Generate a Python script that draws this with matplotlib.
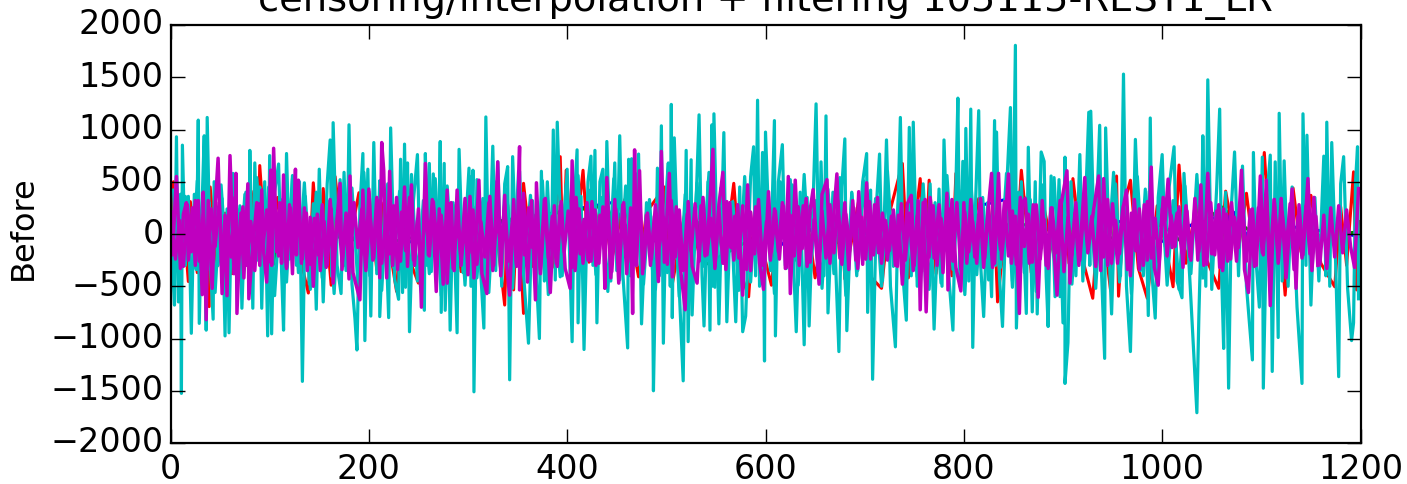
import matplotlib
matplotlib.use('Agg')
import matplotlib.pyplot as plt
import numpy as np

# (frame, value) pairs, one list per traced line
blue_pts = [(0, 60), (40, -90), (120, 110), (220, -120), (320, 90), (445, 300), (470, -100),
            (598, 150), (615, -110), (640, 90), (660, -100), (734, 90), (860, 370), (875, -70),
            (900, 80), (960, 120), (1000, -70), (1030, 90), (1064, 190), (1066, -60), (1068, 200),
            (1070, -40), (1072, 210), (1090, -90), (1130, 70), (1198, -20)]
green_pts = [(0, 40), (104, -290), (108, 80), (210, -100), (320, 110), (440, 270), (455, -90),
             (532, 110), (540, -290), (610, 80), (640, 310), (660, -100), (780, 80), (860, 90),
             (940, -60), (1000, 90), (1020, -80), (1060, 260), (1100, -70), (1198, 20)]
red_pts = [(0, -150), (3, 500), (7, -100), (12, 280), (18, -455), (20, 310), (27, -370), (33, 150), (39, -695),
           (40, 450), (47, -310), (55, 200), (62, -380), (70, 240), (78, -150), (84, 410), (88, -200), (90, 655),
           (97, -300), (108, 350), (115, -250), (124, 525), (132, -280), (139, -565), (144, 490), (150, -240),
           (154, 435), (162, -490), (166, 550), (176, -300), (190, 395), (195, -200), (200, 410), (208, -345),
           (215, 300), (222, -200), (228, -550), (234, 370), (240, -220), (250, -470), (258, 250), (268, 290),
           (275, -280), (285, 280), (293, -360), (305, 260), (315, -420), (325, 340), (337, -680), (340, 280),
           (346, -535), (350, 300), (356, -760), (356, 485), (365, -310), (378, 240), (385, -320), (393, 740),
           (396, -300), (399, 610), (406, -290), (416, 610), (422, -270), (435, 320), (445, -240), (458, 330),
           (472, -410), (480, 210), (490, 340), (498, 450), (506, -480), (520, 270), (535, -250), (548, 310),
           (558, -280), (568, 485), (575, -370), (583, -600), (590, 360), (600, -260), (606, -490), (615, 340),
           (630, -250), (640, 300), (650, -420), (662, 280), (670, -310), (675, 485), (680, -430), (694, 320),
           (705, -400), (717, -520), (725, 200), (738, 675), (744, -420), (756, 530), (761, -360), (765, 515),
           (772, -380), (782, 370), (788, -400), (792, 580), (800, -320), (815, 340), (825, -200), (830, 380),
           (834, -650), (845, 350), (852, -300), (858, 610), (868, -370), (880, 290), (895, -400), (902, 450),
           (906, -280), (910, 530), (920, -250), (930, -615), (937, 310), (948, -540), (954, 555), (956, -595),
           (962, 300), (968, 515), (976, -330), (985, -615), (995, 270), (1005, -190), (1011, -505), (1017, 660),
           (1024, -280), (1035, 300), (1045, -250), (1057, -520), (1064, 410), (1076, -220), (1085, 390), (1094, -300),
           (1103, 780), (1110, -280), (1116, 400), (1124, -585), (1132, 440), (1140, -170), (1150, 370), (1160, -280),
           (1174, -505), (1180, 260), (1186, -300), (1193, 595), (1196, -535), (1198, 120)]
cyan_pts = [(0, 420), (2, -300), (4, -680), (6, 930), (8, -650), (10, 380), (11, -1525), (12, 850), (15, -300),
            (18, 360), (21, -950), (24, 380), (26, -340), (28, 1090), (29, -855), (32, 330), (34, 940), (36, -920),
            (37, 1115), (40, -250), (43, -815), (44, 500), (48, -300), (52, 340), (55, -975), (57, 240), (59, -945),
            (62, 420), (66, -320), (70, 270), (72, -710), (76, 400), (79, -300), (80, 800), (83, -710), (85, 680),
            (88, -250), (90, 450), (92, -710), (95, 500), (98, -975), (100, 750), (102, -955), (105, 400), (109, 670),
            (112, -350), (114, -920), (117, 770), (120, -240), (123, 530), (127, -300), (130, 500), (133, -1410),
            (136, 360), (140, -480), (144, 290), (147, -720), (150, 620), (154, -650), (158, 480), (161, 900),
            (163, -410), (164, 1065), (168, -300), (172, -570), (175, 590), (178, -250), (180, 1045), (183, -480),
            (186, -810), (188, -1110), (191, 250), (194, 770), (196, -1020), (199, 620), (202, -785), (205, 875),
            (208, -380), (211, 510), (211, -790), (216, 300), (220, -800), (222, 1015), (226, -430), (230, -625),
            (232, 715), (234, -560), (236, 860), (238, -300), (239, 680), (241, -935), (245, 320), (249, 760),
            (252, -500), (256, -730), (257, 770), (259, -300), (261, 675), (263, -360), (265, 575), (270, -300),
            (272, 885), (273, -750), (276, 675), (277, -730), (280, 250), (282, -920), (285, 300), (289, -945),
            (291, 810), (295, -370), (301, 630), (303, -500), (305, 610), (306, -1510), (309, 520), (313, -390),
            (316, -900), (318, 1120), (321, -410), (325, 840), (328, -350), (330, 690), (334, -500), (337, 480),
            (340, 645), (342, -1395), (345, 740), (349, -300), (352, 600), (356, -380), (361, -1045), (365, 320),
            (369, -420), (372, -1000), (374, 600), (377, -450), (380, 500), (384, -300), (386, 995), (388, -440),
            (390, 1070), (395, -400), (400, 620), (405, -1030), (407, 280), (410, 805), (411, -850), (414, 360),
            (417, -1105), (421, 500), (424, 745), (426, -300), (428, 800), (430, -850), (433, 500), (436, 620),
            (438, -500), (440, 885), (444, -450), (448, 680), (450, -350), (453, 940), (456, -360), (461, -1090),
            (462, 715), (464, -400), (465, 720), (470, -300), (472, 765), (475, -860), (480, 300), (486, -350),
            (487, -1500), (491, 630), (493, -400), (495, 1035), (497, -1045), (500, 400), (502, 680), (504, -500),
            (505, 1240), (506, -800), (508, 920), (512, -300), (517, -1405), (520, 800), (522, -1030), (525, 710),
            (526, -775), (530, 300), (533, 1140), (536, -400), (538, -880), (542, 500), (544, -920), (546, 1045),
            (547, -500), (548, 1150), (553, -860), (558, 970), (561, -840), (565, 300), (570, -840), (574, 450),
            (577, -935), (580, -785), (585, 550), (588, 835), (590, -400), (592, 1280), (594, -500), (597, 780),
            (599, -1215), (600, 975), (605, -350), (609, 1085), (610, -975), (613, 500), (617, 855), (620, -300),
            (625, 520), (631, -935), (635, 400), (639, -1060), (642, 350), (644, -880), (648, 300), (651, 1245),
            (654, -400), (656, 690), (659, -400), (661, 1130), (663, -755), (668, 400), (674, -1125), (677, 450),
            (680, 910), (682, -925), (687, 400), (692, -400), (698, 500), (702, 770), (703, -750), (706, 420),
            (708, -1390), (712, 300), (715, 765), (718, -450), (722, 900), (726, -500), (731, -1080), (734, 400),
            (736, 1115), (739, -450), (742, -825), (745, 1020), (747, -400), (749, 1070), (753, -500), (758, 350),
            (762, -600), (766, 480), (770, -910), (775, 430), (778, -500), (780, 900), (784, -300), (789, -920),
            (792, 450), (794, 1300), (796, -500), (799, 695), (801, -400), (802, 1010), (805, -450), (807, 1195),
            (809, -1085), (812, 350), (815, 1180), (817, -300), (820, -790), (824, 300), (828, -600), (831, 1085),
            (832, -300), (833, 975), (836, -420), (839, -885), (843, 400), (847, 1210), (849, -450), (852, 1805),
            (853, -900), (858, 500), (863, -760), (865, 830), (869, -745), (872, 500), (874, -765), (878, 785),
            (881, 695), (883, -400), (885, -885), (888, 555), (892, -600), (896, 520), (900, -850), (902, 735),
            (902, -1430), (905, -1040), (908, 500), (913, -400), (917, 760), (920, -450), (926, 1165), (927, -300),
            (928, 1175), (932, -300), (937, 1040), (939, -400), (942, -1190), (943, 1015), (947, -300), (949, -765),
            (953, 480), (958, -400), (961, 1530), (964, -500), (968, -1125), (973, 905), (978, -350), (983, 430),
            (986, -780), (988, 1110), (990, -420), (993, -805), (996, 350), (1000, 760), (1003, -120), (1007, 450),
            (1012, 835), (1015, -450), (1020, -610), (1022, 580), (1028, -450), (1035, -1710), (1037, -790),
            (1040, 300), (1041, 940), (1044, -500), (1046, 1475), (1050, -530), (1055, 450), (1058, 1195), (1060, -400),
            (1062, -1095), (1064, 400), (1067, -1475), (1070, 300), (1073, 785), (1077, -400), (1081, 650), (1085, -500),
            (1091, -1205), (1092, 780), (1095, -300), (1098, -700), (1101, 735), (1102, -1475), (1106, 400), (1109, 755),
            (1111, -1315), (1114, 690), (1117, -990), (1118, 1155), (1121, -450), (1123, 700), (1127, -500), (1131, 450),
            (1136, -700), (1141, -1430), (1142, 1150), (1145, -300), (1146, 945), (1150, -680), (1154, 350), (1158, -450),
            (1163, 745), (1165, -400), (1166, 1070), (1169, -500), (1171, 875), (1175, -300), (1178, -1365), (1180, 480),
            (1183, 740), (1187, -520), (1191, -1020), (1193, -850), (1195, 500), (1197, 835), (1198, -620)]
magenta_pts = [(0, -150), (2, -200), (6, 550), (10, -330), (13, 190), (16, 300), (18, -250), (22, 250), (25, -300),
               (28, 320), (32, -580), (33, 400), (36, -820), (38, 320), (42, -520), (45, 250), (48, 725), (52, -570),
               (55, 180), (57, -590), (60, 750), (64, -380), (66, 580), (67, -760), (71, 200), (74, -420), (78, 480),
               (79, -620), (83, -120), (87, 300), (90, -300), (92, 420), (94, -180), (97, -460), (101, 610), (102, -300),
               (104, 820), (107, -170), (110, 300), (112, -280), (114, 565), (117, -320), (120, 280), (123, -380),
               (126, 620), (127, -200), (129, 515), (132, -280), (135, 250), (138, -350), (141, 160), (144, -500),
               (148, 190), (151, -350), (155, 120), (158, -300), (162, 240), (164, -470), (168, 150), (171, 485),
               (173, -340), (177, 200), (180, -430), (181, 555), (184, -370), (188, -520), (191, -630), (194, 420),
               (197, -320), (200, 430), (204, -250), (208, 350), (211, -420), (213, 875), (215, 610), (218, -420),
               (221, 600), (224, -300), (228, 350), (232, -260), (236, 450), (239, -310), (243, 470), (246, -300),
               (250, 240), (253, -700), (257, 675), (260, -200), (264, 330), (268, -550), (271, 240), (275, -480),
               (279, 420), (279, -470), (283, 300), (286, -350), (289, 420), (293, -300), (297, 170), (300, -390),
               (302, 360), (306, -420), (311, 515), (314, -380), (319, -570), (322, 360), (326, -300), (330, 690),
               (333, -400), (337, 370), (339, -300), (342, -585), (346, 330), (349, -290), (352, 835), (352, -535),
               (356, 390), (360, -460), (364, 320), (368, -630), (369, 490), (373, -380), (378, 340), (383, -560),
               (387, 270), (390, -310), (394, 310), (398, -330), (403, -520), (405, 700), (408, -350), (412, 240),
               (416, -280), (420, 300), (424, -260), (428, 230), (432, -280), (436, 260), (438, -520), (440, 540),
               (444, -420), (448, 330), (452, -470), (456, 280), (460, -380), (464, 250), (466, -760), (468, 805),
               (470, -300), (473, 605), (476, -380), (480, 180), (484, -300), (488, 170), (492, -455), (495, 790),
               (498, -270), (503, 580), (506, -410), (510, 260), (514, -310), (519, -725), (522, 310), (526, -310),
               (531, -470), (535, 270), (539, -210), (543, 160), (547, 810), (549, -330), (553, 280), (557, 590),
               (560, -340), (564, 300), (568, -250), (572, 280), (577, -585), (582, 470), (585, -350), (590, 260),
               (594, -280), (598, -530), (603, 405), (606, -170), (610, 220), (614, -240), (618, 270), (620, -330),
               (623, 550), (625, -570), (630, 515), (634, -300), (638, 270), (642, -310), (645, 230), (648, 425),
               (654, -480), (657, 380), (662, 520), (665, -280), (672, 575), (675, -230), (680, 300), (684, -340),
               (688, 320), (691, -250), (694, 405), (698, -290), (702, 490), (706, -240), (710, 280), (714, -180),
               (718, 200), (723, -250), (727, 170), (731, -300), (734, 180), (738, -480), (743, 290), (747, 370),
               (750, -300), (754, 320), (756, -725), (759, 300), (762, -745), (766, 350), (770, -230), (775, 280),
               (779, -370), (783, 390), (784, -535), (788, 330), (792, -320), (797, -545), (800, 300), (803, -280),
               (807, 330), (811, -220), (816, 290), (820, -320), (824, 180), (828, 580), (831, -280), (835, 580),
               (838, -240), (842, 160), (845, 575), (848, -280), (852, 170), (856, -760), (859, 300), (862, 340),
               (866, -280), (870, 280), (875, -605), (879, 320), (883, -300), (888, 250), (894, -585), (898, 280),
               (904, 605), (907, -470), (912, 200), (916, -300), (922, 540), (925, -180), (931, 240), (936, 555),
               (938, -350), (941, 530), (945, -300), (950, 290), (955, -280), (960, 220), (964, 420), (968, -400),
               (972, 330), (977, -340), (982, 280), (985, -250), (989, 640), (992, -320), (996, -490), (1000, 240),
               (1003, 130), (1006, 525), (1010, -130), (1015, 200), (1020, -180), (1024, 270), (1028, -220), (1033, 250),
               (1036, -250), (1039, 470), (1042, -300), (1046, 580), (1050, -190), (1055, 220), (1058, -320), (1062, 240),
               (1066, -260), (1070, 300), (1075, -260), (1080, 610), (1083, -340), (1087, -560), (1091, 240), (1095, -300),
               (1099, 555), (1102, -200), (1105, 515), (1109, -685), (1113, 330), (1117, -180), (1120, 340), (1125, -420),
               (1131, 430), (1135, -520), (1138, 280), (1142, -200), (1147, 530), (1151, -350), (1155, 170), (1159, -290),
               (1163, 180), (1166, -330), (1170, 250), (1174, -220), (1178, 270), (1182, -180), (1186, 230), (1190, -120),
               (1194, -320), (1198, 435)]

# inner swings of the thick band, one value every fill_step frames
fill_step = 4
magenta_fill = [210, -240, 130, -310, 280, -170, 320, -260, 190, -340, 240, -120, 300, -280, 160, -220, 350, -190, 260, -300,
                120, -350, 290, -150, 230, -270, 310, -210, 180, -330, 250, -140, 340, -240, 200, -290, 150, -200, 280, -320,
                330, -180, 220, -260, 170, -310, 300, -130, 240, -350, 190, -230, 320, -280, 140, -190, 270, -340, 210, -160,
                350, -250, 130, -300, 260, -210, 310, -120, 180, -270, 290, -330, 160, -240, 340, -180, 230, -290, 120, -220,
                300, -350, 200, -150, 280, -260, 150, -310, 320, -200, 250, -130, 190, -340, 330, -230, 170, -280, 270, -170,
                220, -320, 350, -190, 140, -250, 310, -300, 180, -140, 260, -360, 240, -210, 300, -270, 130, -180, 340, -330,
                200, -240, 280, -120, 160, -290, 320, -220, 230, -350, 190, -160, 290, -260, 350, -200, 150, -310, 250, -280,
                310, -130, 170, -230, 270, -340, 210, -190, 330, -300, 120, -250, 240, -170, 300, -320, 180, -210, 260, -140,
                340, -270, 140, -360, 220, -230, 280, -180, 320, -290, 190, -120, 250, -330, 160, -240, 310, -200, 350, -280,
                130, -160, 230, -310, 290, -250, 200, -350, 170, -190, 330, -220, 270, -300, 150, -130, 240, -260, 300, -340,
                210, -170, 120, -280, 340, -230, 260, -320, 180, -150, 310, -210, 220, -290, 350, -120, 190, -270, 280, -240,
                140, -330, 250, -180, 320, -360, 160, -200, 300, -250, 230, -140, 170, -310, 290, -220, 330, -280, 130, -190,
                270, -340, 200, -160, 240, -300, 310, -230, 150, -270, 350, -210, 180, -120, 260, -320, 220, -250, 340, -170,
                120, -290, 300, -200, 280, -350, 190, -240, 160, -130, 320, -260, 230, -310, 250, -180, 140, -220, 330, -280,
                210, -150, 290, -340, 170, -230, 270, -190, 350, -300]
cyan_fill = [420, -480, 360, -520, 510, -390, 300, -560, 470, -340, 580, -430, 380, -500, 540, -310, 450, -590, 330, -460,
             560, -370, 490, -530, 400, -420, 310, -570, 520, -350, 440, -480, 590, -400, 350, -540, 480, -320, 410, -510,
             570, -450, 320, -380, 530, -590, 460, -330, 390, -490, 550, -420, 340, -560, 500, -360, 430, -520, 600, -300,
             370, -470, 510, -580, 300, -410, 480, -340, 560, -500, 420, -390, 350, -550, 530, -440, 460, -320, 580, -480,
             330, -530, 400, -370, 520, -600, 380, -430, 490, -310, 590, -510, 440, -360, 310, -540, 550, -460, 410, -400,
             360, -570, 500, -330, 470, -490, 570, -420, 320, -520, 430, -380, 540, -590, 390, -350, 510, -450, 340, -500,
             600, -310, 450, -560, 370, -410, 480, -530, 300, -470, 560, -340, 420, -580, 520, -390, 350, -440, 490, -320,
             580, -510, 400, -370, 330, -550, 470, -430, 540, -600, 380, -480, 310, -360, 510, -520, 440, -300, 590, -460,
             360, -570, 550, -400, 410, -340, 500, -490, 320, -530, 460, -380, 570, -420]
cyan_fill_step = 6
line_colors = ['b', 'g', 'r', 'c', 'm']
y_ticks = [-2000, -1500, -1000, -500, 0, 500, 1000, 1500, 2000]
x_ticks = [0, 200, 400, 600, 800, 1000, 1200]

plt.style.use('classic')
plt.rcParams['font.family'] = 'DejaVu Sans'

fig = plt.figure(figsize=(14.07, 4.84), dpi=100, facecolor='white')
ax = fig.add_axes([170.5 / 1407, 1 - 443 / 484, 1190 / 1407, 418 / 484])

for pts, col in zip([blue_pts, green_pts, red_pts], line_colors[:3]):
    a = np.array(pts)
    ax.plot(a[:, 0], a[:, 1], color=col, lw=2.2)

a = np.array(cyan_pts)
ax.plot(a[:, 0], a[:, 1], color='c', lw=2.3)
ax.plot(np.arange(len(cyan_fill)) * cyan_fill_step + 3, cyan_fill, color='c', lw=2.3)

a = np.array(magenta_pts)
ax.plot(a[:, 0], a[:, 1], color='m', lw=2.5)
ax.plot(np.arange(len(magenta_fill)) * fill_step + 1, magenta_fill, color='m', lw=2.5)

ax.set_xlim(0, 1200)
ax.set_ylim(-2000, 2000)
ax.set_xticks(x_ticks)
ax.set_yticks(y_ticks)
ax.tick_params(labelsize=24, length=10, width=1)
ax.tick_params(axis='x', pad=7)
ax.tick_params(axis='y', pad=5)
for s in ax.spines.values():
    s.set_linewidth(1.6)
ax.set_ylabel('Before', fontsize=23, labelpad=8, y=0.515)
ax.set_title('censoring/interpolation + filtering 105115-REST1_LR', fontsize=27.6, pad=10)

fig.savefig('out.png', dpi=100)
